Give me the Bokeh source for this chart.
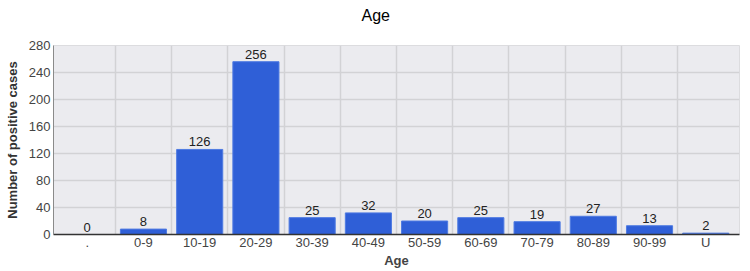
from bokeh.plotting import figure
from bokeh.models import ColumnDataSource, Range1d, FixedTicker, LabelSet, Title
from bokeh.core.properties import value
from bokeh.embed import file_html
from bokeh.resources import INLINE

categories = [".", "0-9", "10-19", "20-29", "30-39", "40-49", "50-59",
              "60-69", "70-79", "80-89", "90-99", "U"]
cases = [0, 8, 126, 256, 25, 32, 20, 25, 19, 27, 13, 2]
y_ticks = [0, 40, 80, 120, 160, 200, 240, 280]

FONT = "Liberation Sans"
idx = list(range(len(categories)))
src = ColumnDataSource(dict(x=idx, top=cases, label=[str(v) for v in cases]))

p = figure(width=750, height=271,
           x_range=Range1d(-0.6, len(categories) - 0.4),
           y_range=Range1d(0, y_ticks[-1]),
           output_backend="svg", toolbar_location=None,
           min_border_left=53, min_border_right=11,
           min_border_bottom=37, min_border_top=45)
p.title = None

# empty spacer title between frame and the real title
spacer = Title(text=" ", text_font=FONT, text_font_size="16px", standoff=0)
p.add_layout(spacer, "above")
main_title = Title(text="Age", align="left", offset=308, vertical_align="top",
                   standoff=2, text_font=FONT, text_font_size="16px",
                   text_font_style="normal", text_color="#000000")
p.add_layout(main_title, "above")

p.background_fill_color = "#ebebef"
p.border_fill_color = "#ffffff"
p.outline_line_color = "#dcdcdf"

p.vbar(x="x", top="top", width=0.82, source=src,
       fill_color="#2f5fd7", line_color="#4f7be2", line_width=1)

labels = LabelSet(x="x", y="top", text="label", source=src,
                  text_align="center", text_baseline="bottom", y_offset=3,
                  text_font=value(FONT), text_font_size=value("13px"),
                  text_color="#222222")
p.add_layout(labels)

# x axis
p.xaxis.ticker = FixedTicker(ticks=idx)
p.xaxis.major_label_overrides = {i: c for i, c in zip(idx, categories)}
p.xaxis.axis_label = "Age"
p.xaxis.axis_label_text_font = FONT
p.xaxis.axis_label_text_font_style = "bold"
p.xaxis.axis_label_text_font_size = "13px"
p.xaxis.axis_label_text_color = "#444444"
p.xaxis.axis_label_standoff = 0
p.xaxis.major_label_text_font = FONT
p.xaxis.major_label_text_font_size = "13px"
p.xaxis.major_label_text_color = "#444444"
p.xaxis.major_label_standoff = 0
p.xaxis.major_tick_out = 0
p.xaxis.major_tick_in = 0
p.xaxis.minor_tick_out = 0
p.xaxis.minor_tick_in = 0
p.xaxis.axis_line_color = "#333333"
p.xaxis.axis_line_width = 1.5

# y axis
p.yaxis.ticker = FixedTicker(ticks=y_ticks)
p.yaxis.axis_label = "Number of positive cases"
p.yaxis.axis_label_text_font = FONT
p.yaxis.axis_label_text_font_style = "bold"
p.yaxis.axis_label_text_font_size = "13px"
p.yaxis.axis_label_text_color = "#333333"
p.yaxis.axis_label_standoff = 6
p.yaxis.major_label_text_font = FONT
p.yaxis.major_label_text_font_size = "13px"
p.yaxis.major_label_text_color = "#444444"
p.yaxis.major_label_standoff = 3
p.yaxis.major_tick_out = 0
p.yaxis.major_tick_in = 0
p.yaxis.minor_tick_out = 0
p.yaxis.minor_tick_in = 0
p.yaxis.axis_line_color = "#8a8a8a"
p.yaxis.axis_line_width = 1

# grids
p.xgrid.ticker = FixedTicker(ticks=[i + 0.5 for i in idx[:-1]])
p.ygrid.ticker = FixedTicker(ticks=y_ticks)
p.xgrid.grid_line_color = "#d2d2d5"
p.ygrid.grid_line_color = "#d2d2d5"
p.xgrid.grid_line_width = 1.5
p.ygrid.grid_line_width = 1.5

open("out.html", "w").write(file_html(p, INLINE))
